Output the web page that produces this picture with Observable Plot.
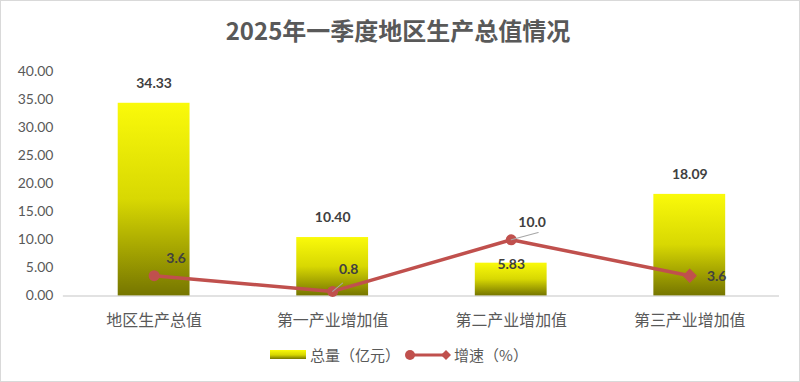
<!DOCTYPE html>
<html><head><meta charset="utf-8">
<script src="https://cdn.jsdelivr.net/npm/d3@7"></script>
<script src="https://cdn.jsdelivr.net/npm/@observablehq/plot@0.6"></script>
<style>
html,body{margin:0;padding:0;background:#fff;}
#frame{position:relative;width:800px;height:382px;box-sizing:border-box;border:1px solid #d9d9d9;background:#fff;overflow:hidden;}
#title{position:absolute;left:0;top:12px;width:794px;text-align:center;font-family:"Noto Sans CJK SC",sans-serif;font-weight:bold;font-size:24px;color:#595959;line-height:34px;}
#chart{position:absolute;left:0;top:55px;}
#legend{position:absolute;left:0;top:343px;width:796px;display:flex;justify-content:center;align-items:center;font-family:"Noto Sans CJK SC",sans-serif;font-size:15px;color:#595959;}
.sw{display:inline-block;width:36px;height:9px;background:linear-gradient(#fafa0a,#d6d600 55%,#767600);margin-right:4px;}
</style></head>
<body><div id="frame"><div id="title">2025年一季度地区生产总值情况</div><div id="chart"></div>
<div id="legend"><span class="sw"></span><span>总量（亿元）</span>
<svg width="48" height="16" style="margin:0 2px 0 4px"><line x1="6" y1="8" x2="42" y2="8" stroke="#C0504D" stroke-width="3"/><circle cx="6" cy="8" r="5" fill="#C0504D"/><path d="M42,3 L47,8 L42,13 L37,8 Z" fill="#C0504D"/></svg><span>增速（%）</span></div>
</div>
<script>
const categories = ["地区生产总值","第一产业增加值","第二产业增加值","第三产业增加值"];
const totals = [34.33, 10.40, 5.83, 18.09];
const growth = [3.6, 0.8, 10.0, 3.6];
const yTicks = [0, 5, 10, 15, 20, 25, 30, 35, 40];

const data = categories.map((c, i) => ({cat: c, total: totals[i], growth: growth[i], i}));
const red = "#C0504D";
const lbl = {fontWeight: "bold", fill: "#404040", fontSize: 14, fontFamily: "Lato, sans-serif"};
const leader = {draw(ctx, l) { ctx.moveTo(0, 0); ctx.lineTo(0, -l); }};

const plot = Plot.plot({
  width: 800, height: 285,
  marginTop: 15, marginBottom: 45, marginLeft: 62, marginRight: 20,
  style: {fontFamily: "Lato, sans-serif", fontSize: "14px", color: "#595959", background: "transparent"},
  x: {domain: categories, paddingInner: 0.6, paddingOuter: 0.3, label: null},
  y: {domain: [0, 40], label: null},
  marks: [
    Plot.axisY({ticks: yTicks, tickFormat: d => d.toFixed(2), tickSize: 0, tickPadding: 10, fontSize: 14}),
    Plot.axisX({tickSize: 0, tickPadding: 19, fontSize: 16, fontFamily: "Noto Sans CJK SC, sans-serif"}),
    Plot.ruleY([0], {stroke: "#d9d9d9", strokeWidth: 1.5}),
    Plot.barY(data, {x: "cat", y: "total", fill: "url(#barGrad)"}),
    Plot.lineY(data, {x: "cat", y: "growth", stroke: red, strokeWidth: 3.5}),
    Plot.dot(data.filter(d => d.i < 3), {x: "cat", y: "growth", r: 5.5, fill: red}),
    Plot.dot(data.filter(d => d.i === 3), {x: "cat", y: "growth", r: 6.5, fill: red, symbol: "diamond2"}),
    Plot.vector(data.filter(d => d.i === 2), {x: "cat", y: "growth", length: 28, rotate: 75, anchor: "start", stroke: "#a6a6a6", strokeWidth: 1, shape: leader}),
    Plot.vector(data.filter(d => d.i === 1), {x: "cat", y: "growth", length: 13, rotate: 50, anchor: "start", stroke: "#a6a6a6", strokeWidth: 1, shape: leader}),
    Plot.text(data.filter(d => d.i !== 2), {x: "cat", y: "total", text: d => d.total.toFixed(2), dy: -20, ...lbl}),
    Plot.text(data.filter(d => d.i === 2), {x: "cat", y: "total", text: d => d.total.toFixed(2), dy: 1, ...lbl}),
    Plot.text(data.filter(d => d.i === 0), {x: "cat", y: "growth", text: d => d.growth.toFixed(1), dx: 22, dy: -17, ...lbl}),
    Plot.text(data.filter(d => d.i === 1), {x: "cat", y: "growth", text: d => d.growth.toFixed(1), dx: 16, dy: -22, ...lbl}),
    Plot.text(data.filter(d => d.i === 2), {x: "cat", y: "growth", text: d => d.growth.toFixed(1), dx: 21, dy: -17, ...lbl}),
    Plot.text(data.filter(d => d.i === 3), {x: "cat", y: "growth", text: d => d.growth.toFixed(1), dx: 27, dy: 1, ...lbl})
  ]
});

const defs = d3.select(plot).insert("defs", ":first-child");
const g = defs.append("linearGradient").attr("id", "barGrad").attr("x1", 0).attr("y1", 0).attr("x2", 0).attr("y2", 1);
g.append("stop").attr("offset", "0%").attr("stop-color", "#fafa0a");
g.append("stop").attr("offset", "50%").attr("stop-color", "#d8d802");
g.append("stop").attr("offset", "100%").attr("stop-color", "#767600");
document.getElementById("chart").appendChild(plot);
</script></body></html>
